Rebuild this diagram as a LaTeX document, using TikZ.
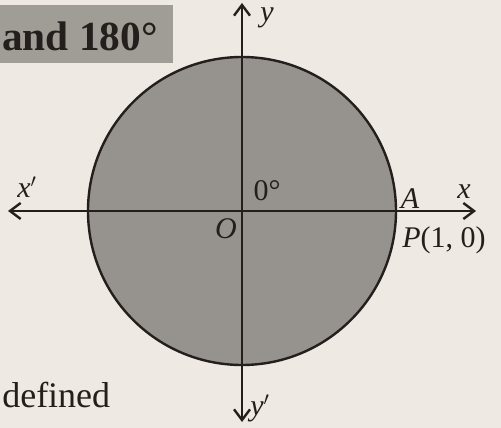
\documentclass[tikz,border=0pt]{standalone}
\usepackage{fontspec}
\setmainfont{Liberation Serif}
\usetikzlibrary{arrows.meta, positioning}
\definecolor{paper}{RGB}{238, 233, 226}
\definecolor{discgray}{RGB}{150, 146, 141}
\definecolor{boxgray}{RGB}{160, 156, 150}
\definecolor{inkdark}{RGB}{36, 30, 28}
\tikzset{
  axis/.style={line width=2pt, inkdark, -{Straight Barb[length=8pt, width=12pt, line width=1.8pt]}},
  lbl/.style={inkdark, font=\fontsize{22.5}{22.5}\selectfont\itshape, inner sep=0pt},
}

\begin{document}
\begin{tikzpicture}[x=0.75pt, y=-0.75pt]
  % 页面
  \fill[paper] (0, 0) rectangle (501, 428);
  \useasboundingbox (0, 0) rectangle (501, 428);

  % 标题条
  \fill[boxgray] (0, 5) rectangle (173, 63);
  \node[inkdark, font=\fontsize{31}{31}\selectfont\bfseries, anchor=west, inner sep=0pt] (title) at (2, 36) {and 180°};

  % 单位圆
  \fill[discgray, draw=inkdark, line width=1.8pt] (242, 211) circle (154);

  % 坐标轴
  \coordinate (xl) at (8, 211);
  \coordinate (xr) at (476, 211);
  \coordinate (yt) at (242, 3);
  \coordinate (yb) at (242, 422);
  \draw[axis] (242, 211) -- (xr);
  \draw[axis] (242, 211) -- (xl);
  \draw[axis] (242, 211) -- (yt);
  \draw[axis] (242, 211) -- (yb);

  % 标注
  \node[lbl] (ylab) at (267, 18) {y};
  \node[lbl] (yplab) at (260, 408) {y$'$};
  \node[lbl] (xplab) at (27, 187) {x$'$};
  \node[lbl] (xlab) at (464, 192) {x};
  \node[lbl] (alab) at (410, 199) {A};
  \node[lbl] (olab) at (226, 229) {O};
  \node[lbl, font=\fontsize{22.5}{22.5}\selectfont] (deg) at (267, 191) {0°};
  \node[lbl, anchor=west] (plab) at (402, 240) {P\upshape(1, 0)};

  % 正文
  \node[inkdark, font=\fontsize{27}{27}\selectfont, anchor=west, inner sep=0pt] (defd) at (2, 395) {defined};
\end{tikzpicture}
\end{document}
